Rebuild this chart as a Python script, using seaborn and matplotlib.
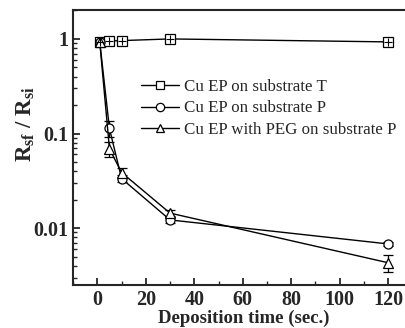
import numpy as np
import pandas as pd
import seaborn as sns
import matplotlib
matplotlib.use('Agg')
import matplotlib.pyplot as plt
from matplotlib.ticker import FixedLocator, FuncFormatter, MultipleLocator, LogLocator

# data
time_t = [1, 5, 10, 30, 120]
ratio_t = [0.93, 0.95, 0.96, 1.0, 0.93]

time_p = [1, 5, 10, 30, 120]
ratio_p = [0.93, 0.113, 0.0334, 0.0122, 0.0068]
err_p = [0.0, 0.022, 0.003, 0.0008, 0.0004]

time_peg = [1, 5, 10, 30, 120]
ratio_peg = [0.93, 0.069, 0.0387, 0.0144, 0.0043]
err_peg = [0.0, 0.012, 0.005, 0.001, 0.0009]

labels = ['Cu EP on substrate T', 'Cu EP on substrate P', 'Cu EP with PEG on substrate P']

sns.set_style('ticks')
plt.rcParams['font.family'] = ['Liberation Serif', 'DejaVu Serif']
plt.rcParams['mathtext.fontset'] = 'custom'
plt.rcParams['mathtext.rm'] = 'Liberation Serif'
plt.rcParams['mathtext.bf'] = 'Liberation Serif:bold'
plt.rcParams['mathtext.it'] = 'Liberation Serif:italic'

df = pd.concat([
    pd.DataFrame({'t': time_t, 'r': ratio_t, 'series': labels[0]}),
    pd.DataFrame({'t': time_p, 'r': ratio_p, 'series': labels[1]}),
    pd.DataFrame({'t': time_peg, 'r': ratio_peg, 'series': labels[2]}),
])

fig = plt.figure(figsize=(4.06, 3.28), dpi=100)
ax = fig.add_axes([0.180, 0.131, 0.84, 0.839])

ax.errorbar(time_p, ratio_p, yerr=err_p, fmt='none', ecolor='black', elinewidth=0.9, capsize=3.5, capthick=0.9)
ax.errorbar(time_peg, ratio_peg, yerr=err_peg, fmt='none', ecolor='black', elinewidth=0.9, capsize=3.5, capthick=0.9)

sns.lineplot(data=df, x='t', y='r', hue='series', style='series',
             palette=['black'] * 3, markers=['s', 'o', '^'], dashes=False,
             markersize=6.5, markerfacecolor='white', markeredgecolor='black',
             markeredgewidth=0.9, linewidth=1.0, ax=ax)
ax.lines[-3].set_markersize(5.8)
# cross inside the squares of substrate T
ax.plot(time_t, ratio_t, linestyle='none', marker='+', markersize=5.5, color='black', markeredgewidth=0.8)

ax.set_yscale('log')
ax.set_xlim(-10, 130.7)
ax.set_ylim(0.0025, 2.03)

ax.xaxis.set_major_locator(FixedLocator([0, 20, 40, 60, 80, 100, 120]))
ax.xaxis.set_minor_locator(MultipleLocator(10))
ax.yaxis.set_major_locator(FixedLocator([0.01, 0.1, 1]))
ax.yaxis.set_major_formatter(FuncFormatter(lambda v, p: '%g' % v))
ax.yaxis.set_minor_locator(LogLocator(base=10, subs=np.arange(2, 10)))
ax.yaxis.set_minor_formatter(FuncFormatter(lambda v, p: ''))

ax.tick_params(which='major', direction='in', length=5, width=1.3, labelsize=14.5, top=False, right=False)
ax.tick_params(which='minor', direction='in', length=3, width=1.0, top=False, right=False)
for lab in ax.get_xticklabels() + ax.get_yticklabels():
    lab.set_fontweight('bold')

for s in ax.spines.values():
    s.set_linewidth(1.5)
    s.set_visible(True)

ax.set_xlabel('Deposition time (sec.)', fontsize=13.5, fontweight='bold', labelpad=0)
ax.set_ylabel(r'R$_{\mathbf{sf}}$ / R$_{\mathbf{si}}$', fontsize=16.5, fontweight='bold')
ax.yaxis.set_label_coords(-0.107, 0.585)

leg = ax.legend(loc='upper left', bbox_to_anchor=(0.175, 0.778), frameon=False,
                fontsize=12.2, handlelength=2.2, handletextpad=0.3, labelspacing=0.3, borderpad=0)
for h in leg.legend_handles:
    h.set_markerfacecolor('white')
    h.set_markersize(6)

fig.savefig('out.png', dpi=100)
